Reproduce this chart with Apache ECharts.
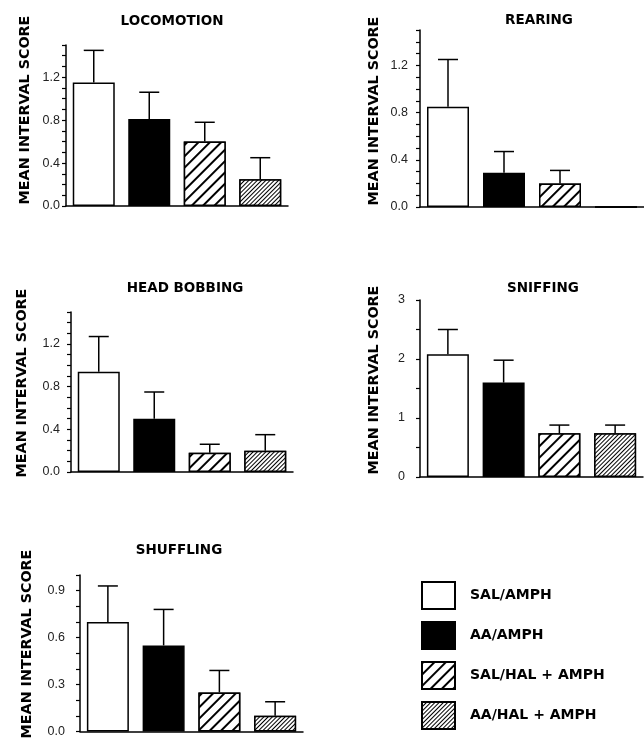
<!DOCTYPE html>
<html><head><meta charset="utf-8">
<script src="https://cdn.jsdelivr.net/npm/echarts@6/dist/echarts.min.js"></script>
<style>html,body{margin:0;padding:0;background:#fff}#c{width:644px;height:738px}</style>
</head><body><div id="c"></div>
<script>
// ---- data ----
const groups = ['SAL/AMPH', 'AA/AMPH', 'SAL/HAL + AMPH', 'AA/HAL + AMPH'];
const behaviors = ['LOCOMOTION', 'REARING', 'HEAD BOBBING', 'SNIFFING', 'SHUFFLING'];
const yAxisName = 'MEAN INTERVAL SCORE';

const locomotionMean = [1.15, 0.81, 0.60, 0.25];
const locomotionSem  = [0.30, 0.25, 0.18, 0.20];
const rearingMean    = [0.85, 0.29, 0.20, 0.00];
const rearingSem     = [0.40, 0.18, 0.11, 0.00];
const headBobbingMean = [0.94, 0.50, 0.18, 0.20];
const headBobbingSem  = [0.33, 0.25, 0.08, 0.15];
const sniffingMean   = [2.08, 1.60, 0.74, 0.74];
const sniffingSem    = [0.42, 0.38, 0.14, 0.14];
const shufflingMean  = [0.70, 0.55, 0.25, 0.10];
const shufflingSem   = [0.23, 0.23, 0.14, 0.09];

// axis scales: max, tick step, labelled tick step, decimals
const yMax = [1.5, 1.5, 1.5, 3, 1.0];
const yTickStep = [0.1, 0.1, 0.1, 0.5, 0.1];
const yLabelStep = [0.4, 0.4, 0.4, 1, 0.3];
const yLabelDecimals = [1, 1, 1, 0, 1];

const means = [locomotionMean, rearingMean, headBobbingMean, sniffingMean, shufflingMean];
const sems = [locomotionSem, rearingSem, headBobbingSem, sniffingSem, shufflingSem];

// ---- layout ----
const grids = [
  {left: 66, top: 45, width: 222, height: 161},
  {left: 420, top: 30, width: 227, height: 177},
  {left: 71, top: 312, width: 222, height: 160},
  {left: 420, top: 300, width: 223, height: 177},
  {left: 80, top: 575, width: 223, height: 158}
];
const labelMargins = [6, 12, 11, 15, 15];
const titlePos = [[172, 21], [539, 20], [185, 288], [543, 288], [179, 550]];
const namePos = [[25, 110], [374, 111], [22, 383], [374, 380], [27, 644]];

const BOLD = 'bold 14.3px "DejaVu Sans"';
const groupStyles = [
  {color: '#fff', borderColor: '#000', borderWidth: 1.5},
  {color: '#000', borderColor: '#000', borderWidth: 1.5},
  {color: '#fff', borderColor: '#000', borderWidth: 1.5,
    decal: {symbol: 'rect', symbolSize: 1, dashArrayX: [1, 0], dashArrayY: [1.2, 5.2], rotation: -Math.PI / 4, color: '#000', backgroundColor: '#fff'}},
  {color: '#fff', borderColor: '#000', borderWidth: 1.5,
    decal: {symbol: 'rect', symbolSize: 1, dashArrayX: [1, 0], dashArrayY: [1, 2], rotation: -Math.PI / 4, color: '#000', backgroundColor: '#fff'}}
];

const xAxes = [], yAxes = [], series = [], graphics = [];
behaviors.forEach((b, p) => {
  xAxes.push({
    gridIndex: p, type: 'category', data: groups,
    axisLine: {show: true, lineStyle: {color: '#000', width: 1.5}},
    axisTick: {show: false}, axisLabel: {show: false}
  });
  const step = yLabelStep[p], dec = yLabelDecimals[p];
  yAxes.push({
    gridIndex: p, type: 'value', min: 0, max: yMax[p], interval: yTickStep[p],
    axisLine: {show: true, lineStyle: {color: '#000', width: 1.5}},
    axisTick: {show: true, length: 4, lineStyle: {color: '#000', width: 1.2}},
    splitLine: {show: false},
    axisLabel: {
      margin: labelMargins[p], fontFamily: 'Liberation Sans', fontSize: 12.5, color: '#222',
      formatter: v => {
        const k = v / step;
        return Math.abs(k - Math.round(k)) < 1e-6 ? v.toFixed(dec) : '';
      }
    }
  });
  groups.forEach((g, gi) => {
    series.push({
      type: 'bar', name: g, xAxisIndex: p, yAxisIndex: p,
      barWidth: 42, barGap: '-100%',
      data: means[p].map((v, i) => i === gi ? v : '-'),
      itemStyle: groupStyles[gi],
      emphasis: {disabled: true}
    });
  });
  series.push({
    type: 'custom', xAxisIndex: p, yAxisIndex: p, z: 5, silent: true,
    encode: {x: 0, y: [1, 2]},
    data: means[p].map((m, i) => [i, m, m + sems[p][i]]),
    renderItem: (params, api) => {
      const i = api.value(0), lo = api.value(1), hi = api.value(2);
      if (!(hi > lo)) return null;
      const t = api.coord([i, hi]), bt = api.coord([i, lo]);
      const st = {stroke: '#000', lineWidth: 1.5};
      return {type: 'group', children: [
        {type: 'line', shape: {x1: t[0], y1: bt[1], x2: t[0], y2: t[1]}, style: st},
        {type: 'line', shape: {x1: t[0] - 10, y1: t[1], x2: t[0] + 10, y2: t[1]}, style: st}
      ]};
    }
  });
  graphics.push({
    type: 'text', x: titlePos[p][0], y: titlePos[p][1],
    style: {text: b, font: 'bold 13.5px "DejaVu Sans"', fill: '#000', textAlign: 'center', textVerticalAlign: 'middle'}
  });
  graphics.push({
    type: 'text', x: namePos[p][0], y: namePos[p][1], rotation: Math.PI / 2,
    style: {text: yAxisName, font: BOLD, fill: '#000', textAlign: 'center', textVerticalAlign: 'middle'}
  });
});

const chart = echarts.init(document.getElementById('c'), null, {renderer: 'canvas'});
chart.setOption({
  animation: false,
  backgroundColor: '#fff',
  grid: grids,
  xAxis: xAxes,
  yAxis: yAxes,
  series: series,
  graphic: {elements: graphics},
  legend: {
    data: groups, orient: 'vertical', left: 421, top: 581, padding: 0,
    itemWidth: 33, itemHeight: 27, itemGap: 11, icon: 'rect',
    selectedMode: false,
    textStyle: {fontFamily: 'DejaVu Sans', fontWeight: 'bold', fontSize: 14, color: '#000', padding: [0, 0, 0, 10]}
  }
});
</script>
</body></html>
